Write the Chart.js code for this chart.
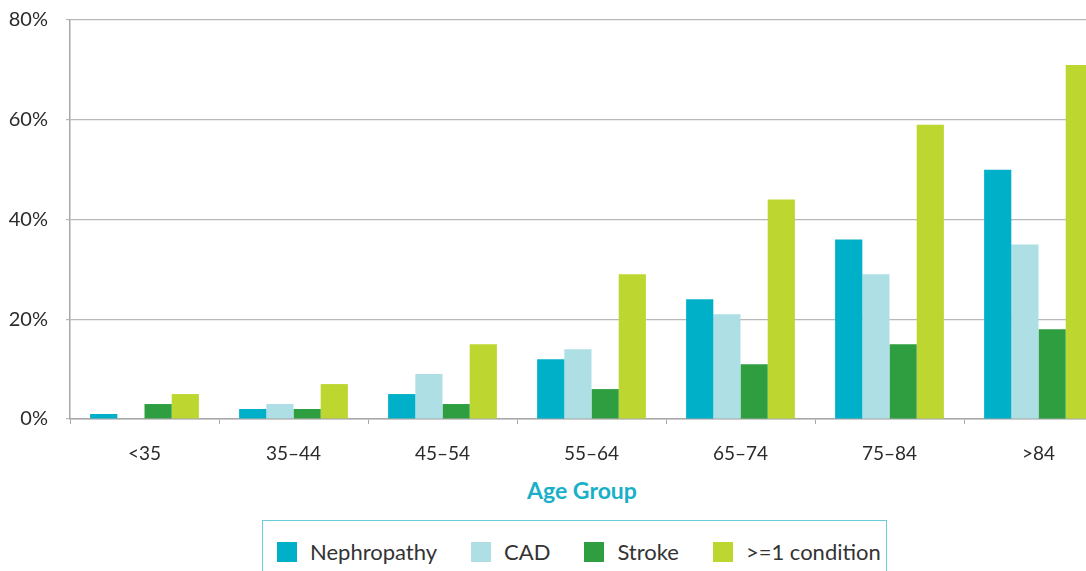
<!DOCTYPE html>
<html>
<head>
<meta charset="utf-8">
<script src="https://cdn.jsdelivr.net/npm/chart.js@4.4.0/dist/chart.umd.min.js"></script>
<style>
  html, body { margin: 0; padding: 0; background: #fff; overflow: hidden; }
  body { width: 1086px; height: 571px; position: relative; font-family: Lato, 'Noto Sans', sans-serif; }
  #wrap { position: absolute; left: 0; top: -10px; width: 1113px; height: 480px; }
  #axis-title {
    position: absolute; left: 432px; width: 300px; top: 476px;
    text-align: center; font-weight: bold; font-size: 23px; color: #18b0c8;
  }
  #legend {
    position: absolute; left: 262px; top: 520px; width: 625px; height: 70px;
    border: 1.5px solid #6ccbd8; box-sizing: border-box;
    display: flex; align-items: flex-start; padding: 17px 0 0 14px;
    font-size: 22px; color: #333; white-space: nowrap;
  }
  .item { display: flex; align-items: center; margin-right: 34px; flex: none; }
  .swatch { width: 20px; height: 20px; margin-right: 13px; flex: none; }
</style>
</head>
<body>
<div id="wrap"><canvas id="chart"></canvas></div>
<div id="axis-title">Age Group</div>
<div id="legend"></div>
<script>
// age groups on the x axis
const ageGroups = ['<35', '35\u201344', '45\u201354', '55\u201364', '65\u201374', '75\u201384', '>84'];

// percent of patients with each condition
const nephropathy = [1, 2, 5, 12, 24, 36, 50];
const cad = [0, 3, 9, 14, 21, 29, 35];
const stroke = [3, 2, 3, 6, 11, 15, 18];
const anyCondition = [5, 7, 15, 29, 44, 59, 71];

const seriesNames = ['Nephropathy', 'CAD', 'Stroke', '>=1 condition'];
const seriesColors = ['#00b0c8', '#aedfe5', '#2f9e41', '#bdd730'];

const GRID_COLOR = '#b8b8b8';
const TICK_COLOR = '#2b2b2b';

const datasets = [nephropathy, cad, stroke, anyCondition].map((values, i) => ({
  label: seriesNames[i],
  data: values,
  backgroundColor: seriesColors[i],
  borderWidth: 0,
  categoryPercentage: 0.73,
  barPercentage: 1
}));

new Chart(document.getElementById('chart'), {
  type: 'bar',
  data: { labels: ageGroups, datasets },
  options: {
    responsive: true,
    maintainAspectRatio: false,
    animation: false,
    layout: { padding: { top: 9, right: 0, bottom: 0, left: 0 } },
    plugins: {
      legend: { display: false },
      tooltip: { enabled: false }
    },
    scales: {
      x: {
        grid: {
          display: true,
          drawOnChartArea: false,
          drawTicks: true,
          tickLength: 5,
          color: '#a8a8a8'
        },
        border: { color: '#a8a8a8', width: 1.5 },
        ticks: {
          color: TICK_COLOR,
          padding: 18,
          maxRotation: 0,
          font: { family: 'Lato', size: 19 }
        },
        afterFit: (scale) => { scale.height = 51; }
      },
      y: {
        min: 0,
        max: 80,
        grid: { color: GRID_COLOR, lineWidth: 1.2, tickLength: 4 },
        border: { color: '#a8a8a8', width: 1.5 },
        ticks: {
          stepSize: 20,
          color: TICK_COLOR,
          padding: 18,
          font: { family: 'Lato', size: 20 },
          callback: (value) => `${value}%`
        },
        afterFit: (scale) => { scale.width = 70; }
      }
    }
  }
});

// legend built as plain html so it can sit in a bordered box
const legend = document.getElementById('legend');
seriesNames.forEach((name, i) => {
  const item = document.createElement('div');
  item.className = 'item';
  item.innerHTML = `<span class="swatch" style="background:${seriesColors[i]}"></span><span>${name.replace('>', '&gt;')}</span>`;
  legend.appendChild(item);
});
</script>
</body>
</html>
